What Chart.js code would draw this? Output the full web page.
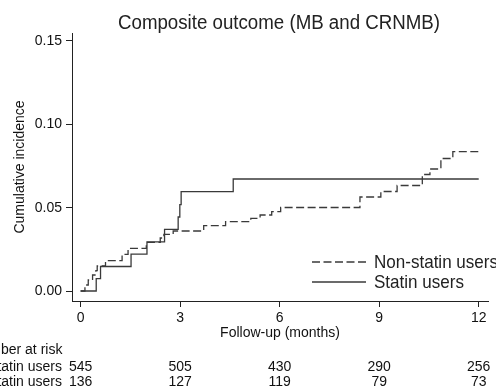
<!DOCTYPE html>
<html><head><meta charset="utf-8">
<script src="https://cdn.jsdelivr.net/npm/chart.js@4/dist/chart.umd.min.js"></script>
<style>html,body{margin:0;padding:0;background:#fff}#wrap{width:496px;height:390px;position:relative}</style>
</head><body><div id="wrap"><canvas id="c" width="496" height="390"></canvas></div>
<script>
const titleText = 'Composite outcome (MB and CRNMB)';
const xTitle = 'Follow-up (months)';
const yTitle = 'Cumulative incidence';
const riskTitle = 'Number at risk';
const seriesNames = ['Non-statin users', 'Statin users'];
const xTicks = [0, 3, 6, 9, 12];
const yTicks = [0, 0.05, 0.10, 0.15];
const nonStatinTimes  = [0, 0.13, 0.23, 0.36, 0.46, 0.50, 0.75, 1.25, 1.43, 1.98, 2.40, 2.51, 2.79, 3.71, 4.37, 5.13, 5.41, 5.76, 6.03, 8.42, 9.05, 9.54, 10.30, 10.53, 10.86, 11.22, 11.99, 12];
const nonStatinValues = [0, 0.0036, 0.0066, 0.0096, 0.0122, 0.0150, 0.0182, 0.0220, 0.0256, 0.0292, 0.0318, 0.0340, 0.0360, 0.0392, 0.0416, 0.0436, 0.0456, 0.0476, 0.0501, 0.0564, 0.0597, 0.0633, 0.0699, 0.0732, 0.0795, 0.0836, 0.0850, 0.0850];
const statinTimes  = [0, 0.47, 0.60, 1.52, 2.00, 2.53, 2.94, 2.99, 3.03, 4.60, 12];
const statinValues = [0, 0.0074, 0.0147, 0.0221, 0.0295, 0.0370, 0.0444, 0.0518, 0.0596, 0.0672, 0.0672];
const riskNonStatin = [545, 505, 430, 290, 256];
const riskStatin = [136, 127, 119, 79, 73];

const SANS = "'Liberation Sans', Arial, sans-serif";
const LINE = '#3a3a3a';

const toPts = (t, v) => t.map((x, i) => ({x, y: v[i]}));

// draw text condensed horizontally so it spans a given width (emulates a narrow face)
function narrowText(ctx, text, x, y, size, width, align) {
  ctx.save();
  ctx.font = size + 'px ' + SANS;
  const w = ctx.measureText(text).width;
  const k = width / w;
  ctx.textBaseline = 'middle';
  ctx.textAlign = 'left';
  const x0 = align === 'center' ? x - width / 2 : x;
  ctx.translate(x0, y);
  ctx.scale(k, 1);
  ctx.fillText(text, 0, 0);
  ctx.restore();
}

const extras = {
  id: 'extras',
  afterDraw(chart) {
    const ctx = chart.ctx, ca = chart.chartArea, xs = chart.scales.x;
    ctx.save();
    ctx.fillStyle = '#222';
    narrowText(ctx, titleText, (ca.left + ca.right) / 2 - 1, 23, 20, 322, 'center');
    // legend
    const rows = [262, 282];
    const widths = [124, 90];
    chart.data.datasets.forEach((ds, i) => {
      ctx.strokeStyle = ds.borderColor; ctx.lineWidth = ds.borderWidth;
      ctx.setLineDash(ds.borderDash || []);
      ctx.beginPath(); ctx.moveTo(312, rows[i]); ctx.lineTo(366, rows[i]); ctx.stroke();
      ctx.setLineDash([]);
      ctx.fillStyle = '#222';
      narrowText(ctx, ds.label, 374, rows[i] + 0.5, 18.5, widths[i], 'left');
    });
    // risk table
    ctx.font = '14px ' + SANS; ctx.fillStyle = '#111'; ctx.textBaseline = 'middle';
    ctx.textAlign = 'left';
    ctx.fillText(riskTitle, -28.6, 350);
    ctx.textAlign = 'right';
    ctx.fillText(seriesNames[0], 62, 367);
    ctx.fillText(seriesNames[1], 62, 382);
    ctx.textAlign = 'center';
    xTicks.forEach((t, i) => {
      const px = xs.getPixelForValue(t);
      ctx.fillText(String(riskNonStatin[i]), px, 367);
      ctx.fillText(String(riskStatin[i]), px, 382);
    });
    ctx.restore();
  }
};

new Chart(document.getElementById('c'), {
  type: 'line',
  data: {
    datasets: [
      { label: seriesNames[0], data: toPts(nonStatinTimes, nonStatinValues), borderColor: LINE, borderWidth: 1.3, borderDash: [8, 3.5], stepped: 'before', pointRadius: 0, fill: false },
      { label: seriesNames[1], data: toPts(statinTimes, statinValues), borderColor: LINE, borderWidth: 1.3, stepped: 'before', pointRadius: 0, fill: false }
    ]
  },
  options: {
    responsive: false, animation: false, devicePixelRatio: 1,
    layout: { padding: { left: 0, right: 8, top: 33, bottom: 0 } },
    plugins: { legend: { display: false }, title: { display: false }, tooltip: { enabled: false } },
    scales: {
      x: {
        type: 'linear', min: -0.26, max: 12.28,
        afterBuildTicks: s => { s.ticks = xTicks.map(v => ({value: v})); },
        afterFit: s => { s.height = 89; },
        grid: { drawOnChartArea: false, drawTicks: true, tickLength: 6, color: '#222', tickWidth: 1 },
        border: { display: true, color: '#222', width: 1 },
        ticks: { color: '#111', font: { family: SANS, size: 14 }, padding: 3, maxRotation: 0, autoSkip: false, callback: v => String(v) },
        title: { display: true, text: xTitle, color: '#111', font: { family: SANS, size: 14 }, padding: { top: 0, bottom: 48.8 } }
      },
      y: {
        type: 'linear', min: -0.006, max: 0.1548,
        afterBuildTicks: s => { s.ticks = yTicks.map(v => ({value: v})); },
        afterFit: s => { s.width = 72; },
        grid: { drawOnChartArea: false, drawTicks: true, tickLength: 6, color: '#222', tickWidth: 1 },
        border: { display: true, color: '#222', width: 1 },
        ticks: { color: '#111', font: { family: SANS, size: 14 }, padding: 4, autoSkip: false, callback: v => Number(v).toFixed(2) },
        title: { display: true, text: yTitle, color: '#111', font: { family: SANS, size: 14 }, padding: { top: 11.6, bottom: 0 } }
      }
    }
  },
  plugins: [extras]
});
</script></body></html>
